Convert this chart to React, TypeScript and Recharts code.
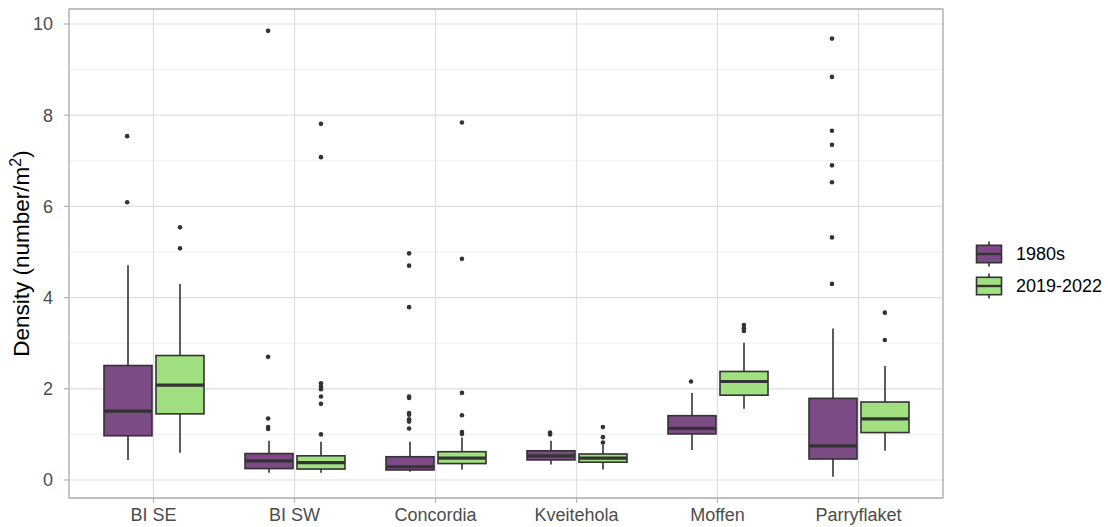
import React from "react";
import {
  ComposedChart,
  Bar,
  Scatter,
  XAxis,
  YAxis,
  CartesianGrid,
  ReferenceArea,
} from "recharts";

// ---- data ----
const sites = ["BI SE", "BI SW", "Concordia", "Kveitehola", "Moffen", "Parryflaket"];
const groups = ["1980s", "2019-2022"];

// 1980s
const lo80 = [0.44, 0.16, 0.18, 0.34, 0.66, 0.07];
const q1_80 = [0.97, 0.25, 0.22, 0.44, 1.01, 0.46];
const med80 = [1.51, 0.42, 0.29, 0.53, 1.13, 0.75];
const q3_80 = [2.51, 0.58, 0.51, 0.64, 1.41, 1.79];
const hi80 = [4.71, 0.86, 0.84, 0.86, 1.91, 3.32];
const out80 = [
  [7.54, 6.09],
  [9.85, 2.7, 1.35, 1.16, 1.12],
  [4.97, 4.7, 3.79, 1.83, 1.8, 1.47, 1.43, 1.33, 1.28, 1.13],
  [1.04, 1.0],
  [2.16],
  [9.68, 8.84, 7.66, 7.35, 6.9, 6.53, 5.32, 4.3],
];

// 2019-2022
const lo22 = [0.6, 0.16, 0.23, 0.23, 1.56, 0.64];
const q1_22 = [1.45, 0.24, 0.36, 0.39, 1.86, 1.04];
const med22 = [2.08, 0.38, 0.48, 0.48, 2.16, 1.34];
const q3_22 = [2.73, 0.53, 0.62, 0.57, 2.38, 1.71];
const hi22 = [4.3, 0.84, 0.93, 0.77, 3.01, 2.5];
const out22 = [
  [5.54, 5.08],
  [7.81, 7.08, 2.12, 2.05, 1.99, 1.83, 1.67, 1.0],
  [7.84, 4.85, 1.91, 1.42, 1.05, 1.01],
  [1.16, 0.94, 0.82],
  [3.4, 3.33, 3.27],
  [3.67, 3.07],
];

const yTicks = [0, 2, 4, 6, 8, 10];
const yMinorTicks = [1, 3, 5, 7, 9];

// ---- styles ----
const PURPLE = "#7C4A85";
const GREEN = "#A0E080";
const LINE = "#333333";
const FONT = "'Liberation Sans', Arial, sans-serif";
const Y_DOMAIN: [number, number] = [-0.395, 10.329];
const X_DOMAIN: [number, number] = [0.4, 6.6];
const DODGE = 0.1875;

const boxData = sites.map((site, i) => ({
  site,
  a: { lo: lo80[i], q1: q1_80[i], med: med80[i], q3: q3_80[i], hi: hi80[i] },
  b: { lo: lo22[i], q1: q1_22[i], med: med22[i], q3: q3_22[i], hi: hi22[i] },
}));

const outliers80 = out80.flatMap((vals, i) => vals.map((v) => ({ x: i + 1 - DODGE, y: v })));
const outliers22 = out22.flatMap((vals, i) => vals.map((v) => ({ x: i + 1 + DODGE, y: v })));

const rangeOf = (key: "a" | "b") => (d: any) =>
  d && d[key] ? [d[key].lo, d[key].hi] : null;

function makeBoxShape(key: "a" | "b", fill: string) {
  return (props: any) => {
    const { x, y, width, height, payload } = props;
    const s = payload && payload[key];
    if (!s || !isFinite(height) || !isFinite(y)) return <g />;
    const h = Math.abs(height);
    const top = height >= 0 ? y : y + height;
    const k = h / (s.hi - s.lo);
    const py = (v: number) => top + (s.hi - v) * k;
    const cx = x + width / 2;
    return (
      <g>
        <line x1={cx} x2={cx} y1={py(s.hi)} y2={py(s.q3)} stroke={LINE} strokeWidth={1.6} />
        <line x1={cx} x2={cx} y1={py(s.q1)} y2={py(s.lo)} stroke={LINE} strokeWidth={1.6} />
        <rect
          x={x}
          y={py(s.q3)}
          width={width}
          height={py(s.q1) - py(s.q3)}
          fill={fill}
          stroke={LINE}
          strokeWidth={1.6}
        />
        <line x1={x} x2={x + width} y1={py(s.med)} y2={py(s.med)} stroke={LINE} strokeWidth={3.2} />
      </g>
    );
  };
}

const dot = (p: any) => <circle cx={p.cx} cy={p.cy} r={2.3} fill={LINE} />;

function YTitle(props: any) {
  const vb = props.viewBox || {};
  const cy = (vb.y ?? 9) + (vb.height ?? 489) / 2;
  const x = 29;
  return (
    <text
      x={x}
      y={cy}
      transform={`rotate(-90, ${x}, ${cy})`}
      textAnchor="middle"
      fontSize={22.5}
      fill="#000000"
      fontFamily={FONT}
    >
      Density (number/m
      <tspan dy={-8} fontSize={16}>
        2
      </tspan>
      <tspan dy={8}>)</tspan>
    </text>
  );
}

function LegendKey({ cy, fill, label }: { cy: number; fill: string; label: string }) {
  const x0 = 976.5;
  const w = 25;
  return (
    <g>
      <line x1={x0 + w / 2} x2={x0 + w / 2} y1={cy - 12.5} y2={cy + 12.5} stroke={LINE} strokeWidth={1.6} />
      <rect x={x0} y={cy - 8.7} width={w} height={17.4} fill={fill} stroke={LINE} strokeWidth={1.6} />
      <line x1={x0} x2={x0 + w} y1={cy} y2={cy} stroke={LINE} strokeWidth={2.4} />
      <text x={1016} y={cy} dominantBaseline="central" fontSize={18} fill="#000000" fontFamily={FONT}>
        {label}
      </text>
    </g>
  );
}

export default function App() {
  return (
    <div style={{ position: "absolute", left: 0, top: 0, width: 1108, height: 527, background: "#fff" }}>
      <ComposedChart
        width={1108}
        height={527}
        data={boxData}
        margin={{ top: 9, right: 165, bottom: 1, left: 0 }}
        style={{ fontFamily: FONT }}
      >
        <XAxis
          xAxisId="cat"
          dataKey="site"
          type="category"
          padding={{ left: 14, right: 14 }}
          height={28}
          axisLine={false}
          tickLine={{ stroke: "#B3B3B3", strokeWidth: 1.2 }}
          tickSize={5}
          tickMargin={5}
          tick={{ fill: "#4D4D4D", fontSize: 18, fontFamily: FONT }}
          interval={0}
        />
        <XAxis
          xAxisId="num"
          dataKey="x"
          type="number"
          domain={X_DOMAIN}
          allowDataOverflow
          hide
        />
        <YAxis
          type="number"
          domain={Y_DOMAIN}
          allowDataOverflow
          ticks={yTicks}
          width={69}
          axisLine={false}
          tickLine={{ stroke: "#B3B3B3", strokeWidth: 1.2 }}
          tickSize={5}
          tickMargin={11}
          tick={{ fill: "#4D4D4D", fontSize: 18, fontFamily: FONT }}
          label={<YTitle />}
        />
        <YAxis
          yAxisId="minor"
          type="number"
          domain={Y_DOMAIN}
          allowDataOverflow
          ticks={yMinorTicks}
          hide
        />
        <CartesianGrid xAxisId="cat" yAxisId="minor" vertical={false} stroke="#EFEFEF" strokeWidth={1} />
        <CartesianGrid xAxisId="cat" stroke="#DEDEDE" strokeWidth={1.2} />
        <Bar
          xAxisId="cat"
          name={groups[0]}
          dataKey={rangeOf("a")}
          barSize={48}
          shape={makeBoxShape("a", PURPLE)}
          isAnimationActive={false}
        />
        <Bar
          xAxisId="cat"
          name={groups[1]}
          dataKey={rangeOf("b")}
          barSize={48}
          shape={makeBoxShape("b", GREEN)}
          isAnimationActive={false}
        />
        <Scatter xAxisId="num" dataKey="y" data={outliers80} shape={dot} isAnimationActive={false} />
        <Scatter xAxisId="num" dataKey="y" data={outliers22} shape={dot} isAnimationActive={false} />
        <ReferenceArea
          xAxisId="num"
          x1={X_DOMAIN[0]}
          x2={X_DOMAIN[1]}
          y1={Y_DOMAIN[0]}
          y2={Y_DOMAIN[1]}
          fill="none"
          fillOpacity={0}
          stroke="#B3B3B3"
          strokeWidth={1.3}
          ifOverflow="visible"
        />
      </ComposedChart>
      <svg
        width={1108}
        height={527}
        style={{ position: "absolute", left: 0, top: 0, pointerEvents: "none" }}
      >
        <LegendKey cy={254} fill={PURPLE} label={groups[0]} />
        <LegendKey cy={286} fill={GREEN} label={groups[1]} />
      </svg>
    </div>
  );
}
